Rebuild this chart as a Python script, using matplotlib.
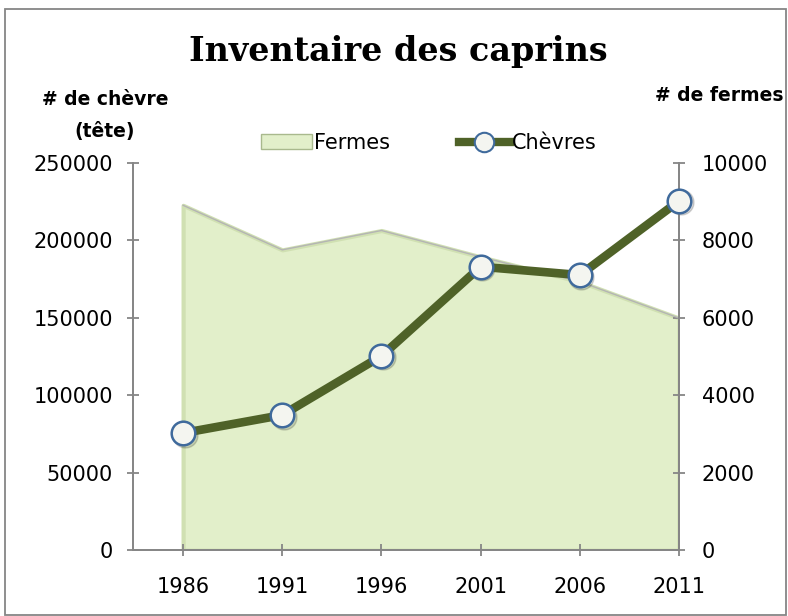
import matplotlib
matplotlib.use('Agg')
import matplotlib.pyplot as plt
from matplotlib.patches import Rectangle, Patch
from matplotlib.lines import Line2D
from matplotlib.transforms import offset_copy

# données
years = ['1986', '1991', '1996', '2001', '2006', '2011']
fermes = [8900, 7750, 8250, 7570, 6930, 5990]
chevres = [75600, 87200, 125300, 182900, 177500, 225300]

left_ticks = [0, 50000, 100000, 150000, 200000, 250000]
right_ticks = [0, 2000, 4000, 6000, 8000, 10000]

fs = 15
green = '#4f6228'
area_col = '#e2efca'
grey = '#868686'
plt.rcParams['font.family'] = ['DejaVu Sans']

fig = plt.figure(figsize = (7.88, 6.16), dpi = 100)
ax = fig.add_axes([0.1688, 0.1068, 0.6929, 0.6291])
ax2 = ax.twinx()

x = list(range(len(years)))

# surface des fermes (axe de droite)
ax2.fill_between(x, fermes, 0, color = area_col, edgecolor = '#d0e0b2', linewidth = 3, zorder = 1)
ax2.plot(x, fermes, color = '#b4b4b4', linewidth = 1, zorder = 2)
ax2.set_ylim(0, 10000)
ax2.set_yticks(right_ticks)

# ligne des chèvres (axe de gauche), au-dessus
ax.set_zorder(ax2.get_zorder() + 1)
ax.patch.set_visible(False)
shadow = offset_copy(ax.transData, fig = fig, x = 1.5, y = -1.5, units = 'dots')
ax.plot(x, chevres, linestyle = 'none', marker = 'o', markersize = 18, color = '#000000',
        alpha = 0.15, transform = shadow, clip_on = False, zorder = 2)
ax.plot(x, chevres, color = green, linewidth = 6.2, marker = 'o', markersize = 17,
        markerfacecolor = '#f4f5f0', markeredgecolor = '#3f6a9c', markeredgewidth = 1.8,
        solid_capstyle = 'butt', clip_on = False, zorder = 3)
ax.set_ylim(0, 250000)
ax.set_yticks(left_ticks)
ax.set_xlim(-0.505, 5)
ax.set_xticks(x)
ax.set_xticklabels(years)

for a in (ax, ax2):
    a.spines['top'].set_visible(False)
    for s in ('left', 'right', 'bottom'):
        a.spines[s].set_color(grey)
        a.spines[s].set_linewidth(1.3)
    a.tick_params(axis = 'both', direction = 'inout', length = 9, width = 1.3, color = grey,
                  labelsize = fs, pad = 10)
ax.tick_params(axis = 'x', pad = 15)
ax2.tick_params(axis = 'y', pad = 12)
ax.yaxis.set_ticks_position('left')
ax2.yaxis.set_ticks_position('right')

# textes
fig.text(0.506, 0.917, 'Inventaire des caprins', ha = 'center', va = 'center',
         fontsize = 24, fontweight = 'bold', family = 'DejaVu Serif')
fig.text(0.133, 0.838, '# de chèvre', ha = 'center', va = 'center', fontsize = 13.5, fontweight = 'bold')
fig.text(0.133, 0.787, '(tête)', ha = 'center', va = 'center', fontsize = 13.5, fontweight = 'bold')
fig.text(0.913, 0.845, '# de fermes', ha = 'center', va = 'center', fontsize = 13.5, fontweight = 'bold')

handles = [Patch(facecolor = area_col, edgecolor = '#a9b98d', linewidth = 1),
           Line2D([0], [0], color = green, linewidth = 6, marker = 'o', markersize = 14,
                  markerfacecolor = '#f4f5f0', markeredgecolor = '#3f6a9c', markeredgewidth = 1.5)]
fig.legend(handles, ['Fermes', 'Chèvres'], loc = 'center', bbox_to_anchor = (0.544, 0.768),
           ncol = 2, frameon = False, fontsize = fs, handlelength = 2.45, handletextpad = 0.1,
           columnspacing = 3.3)

fig.patches.append(Rectangle((0.006, 0.002), 0.992, 0.984, transform = fig.transFigure,
                             fill = False, edgecolor = grey, linewidth = 1.3))

fig.savefig('out.png', dpi = 100)
plt.close(fig)
